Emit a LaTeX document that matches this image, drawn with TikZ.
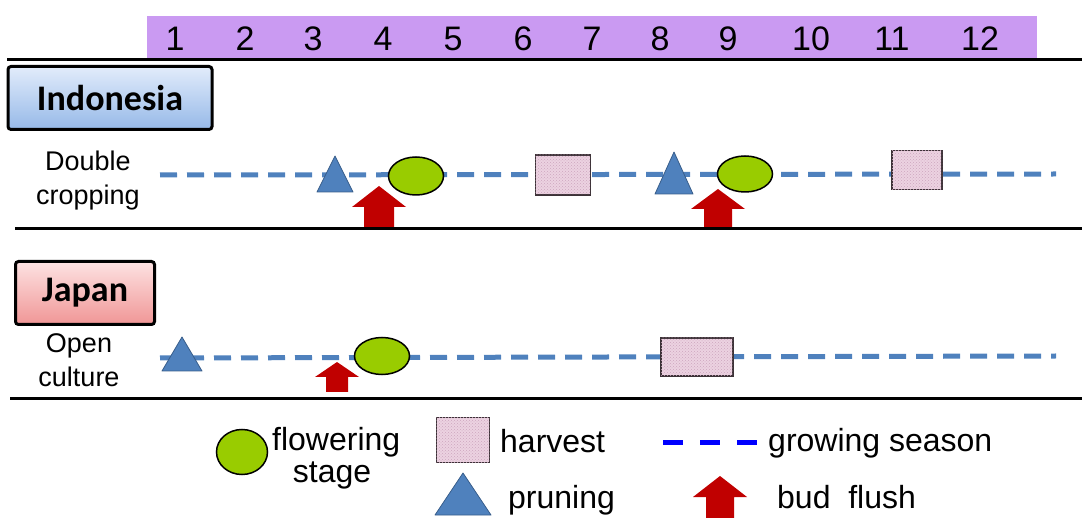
\documentclass[tikz,border=0pt]{standalone}
\usepackage{fontspec}
\setmainfont{Liberation Sans}
\newfontfamily\boxfont{Carlito}
\usetikzlibrary{shapes.geometric,patterns}
\definecolor{barpurple}{RGB}{202,154,242}
\definecolor{seasonblue}{RGB}{79,129,189}
\definecolor{prunefill}{RGB}{79,129,189}
\definecolor{pruneedge}{RGB}{56,93,138}
\definecolor{flowergreen}{RGB}{153,204,0}
\definecolor{harvestpink}{RGB}{236,210,225}
\definecolor{harvestdot}{RGB}{205,165,190}
\definecolor{harvestedge}{RGB}{60,50,55}
\definecolor{budred}{RGB}{192,0,0}
\definecolor{indotop}{RGB}{226,236,251}
\definecolor{indobot}{RGB}{150,185,232}
\definecolor{japtop}{RGB}{253,226,226}
\definecolor{japbot}{RGB}{240,150,150}
\newcommand{\budarrow}[6]{%
  \fill[budred] (#1-#6,#4) -- (#1-#6,#3) -- (#1-#5,#3) -- (#1,#2) -- (#1+#5,#3) -- (#1+#6,#3) -- (#1+#6,#4) -- cycle;}
\newcommand{\prunetri}[4]{%
  \filldraw[prune] (#1,#2) -- (#1+#4,#3) -- (#1-#4,#3) -- cycle;}
\tikzset{
  month/.style={font=\fontsize{34}{34}\selectfont, inner sep=0pt},
  country/.style={draw=black, line width=3pt, rounded corners=3pt, inner sep=0pt,
    font=\boxfont\bfseries\fontsize{36}{36}\selectfont},
  rowlabel/.style={align=center, inner sep=0pt, font=\fontsize{27}{34}\selectfont},
  season/.style={draw=seasonblue, line width=5pt, dash pattern=on 17pt off 10pt},
  flower/.style={ellipse, draw=black, line width=1.5pt, fill=flowergreen, inner sep=0pt},
  harvest/.style={rectangle, draw=harvestedge, line width=1.5pt, fill=harvestpink, inner sep=0pt,
    postaction={pattern=crosshatch dots, pattern color=harvestdot}},
  prune/.style={fill=prunefill, draw=pruneedge, line width=0.8pt, line join=round},
  divider/.style={draw=black, line width=3pt},
  legendtext/.style={font=\fontsize{32}{32}\selectfont, inner sep=0pt},
}
\begin{document}
\begin{tikzpicture}[x=1pt,y=-1pt]
\useasboundingbox (0,0) rectangle (1082,518);
% header
\fill[barpurple] (147,16) rectangle (1037,58);
\foreach \m/\x in {1/175,2/245,3/313,4/383,5/453,6/523,7/592,8/660,9/728,10/811,11/892,12/980}
  \node[month] (m\m) at (\x,39) {\m};
\coordinate (hl1) at (7,60); \coordinate (hl2) at (1082,60);
\draw[divider] (hl1) -- (hl2);
% Indonesia
\node[country, top color=indotop, bottom color=indobot, minimum width=204pt, minimum height=63pt] (indo) at (110,98) {Indonesia};
\node[rowlabel] (dc) at (88,181) {Double\\cropping};
\coordinate (d1s) at (160,175); \coordinate (d1e) at (1056,174);
\draw[season] (d1s) -- (d1e);
\prunetri{335}{156}{192}{18}
\node[flower, minimum width=55pt, minimum height=38pt] (f1) at (416,176) {};
\budarrow{379}{186}{207}{229}{27}{15}
\node[harvest, minimum width=55pt, minimum height=40pt] (h1) at (563,175) {};
\prunetri{674}{152}{194}{19}
\node[flower, minimum width=55pt, minimum height=36pt] (f2) at (745,174) {};
\budarrow{718}{189}{209}{229}{27}{14}
\node[harvest, minimum width=50pt, minimum height=39pt] (h2) at (917,170) {};
\coordinate (il1) at (15,229); \coordinate (il2) at (1082,229);
\draw[divider] (il1) -- (il2);
% Japan
\node[country, top color=japtop, bottom color=japbot, minimum width=139pt, minimum height=63pt] (jap) at (85,293) {Japan};
\node[rowlabel] (oc) at (79,360) {Open\\culture};
\coordinate (d2s) at (160,358); \coordinate (d2e) at (1056,356);
\draw[season] (d2s) -- (d2e);
\prunetri{182}{337}{371}{20}
\budarrow{337}{362}{377}{392}{22}{11}
\node[flower, minimum width=55pt, minimum height=37pt] (f3) at (382,356) {};
\node[harvest, minimum width=72pt, minimum height=38pt] (h3) at (697,357) {};
\coordinate (jl1) at (10,399); \coordinate (jl2) at (1082,399);
\draw[divider] (jl1) -- (jl2);
% legend
\node[flower, minimum width=51pt, minimum height=45pt] (lf) at (242,452) {};
\node[legendtext, anchor=west] (ltf) at (272,442) {flowering};
\node[legendtext] (lts) at (332,475) {stage};
\node[harvest, minimum width=53pt, minimum height=45pt] (lh) at (463,440) {};
\node[legendtext, anchor=west] (lth) at (500,441) {harvest};
\prunetri{463}{473}{515}{28}
\node[legendtext, anchor=west] (ltp) at (508,500) {pruning};
\coordinate (ls1) at (663,443); \coordinate (ls2) at (758,443);
\draw[blue, line width=5pt, dash pattern=on 20pt off 17pt] (ls1) -- (ls2);
\node[legendtext, anchor=west] (ltg) at (768,443) {growing season};
\budarrow{720}{476}{497}{518}{27}{14}
\node[legendtext, anchor=west] (ltb) at (777,497) {bud\ \ flush};
\end{tikzpicture}
\end{document}
